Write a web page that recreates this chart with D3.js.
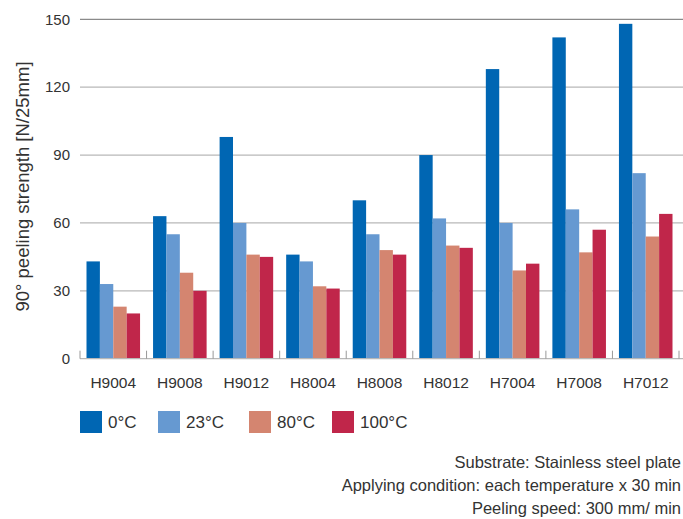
<!DOCTYPE html>
<html><head><meta charset="utf-8">
<script src="https://cdn.jsdelivr.net/npm/d3@7"></script>
<style>body{margin:0;background:#fff}svg{display:block}text{font-family:"Liberation Sans",Arial,sans-serif;fill:#333}</style>
</head><body><svg id="c" width="683" height="519"></svg>
<script>
const categories = ["H9004","H9008","H9012","H8004","H8008","H8012","H7004","H7008","H7012"];
const seriesNames = ["0°C","23°C","80°C","100°C"];
const s0 = [43,63,98,46,70,90,128,142,148];
const s23 = [33,55,60,43,55,62,60,66,82];
const s80 = [23,38,46,32,48,50,39,47,54];
const s100 = [20,30,45,31,46,49,42,57,64];
const yTicks = [0,30,60,90,120,150];
const colors = ["#0066b3","#6699d1","#d48570","#c0264a"];
const notes = ["Substrate: Stainless steel plate","Applying condition: each temperature x 30 min","Peeling speed: 300 mm/ min"];

const series = [s0,s23,s80,s100];
const svg = d3.select("#c");
const L = 80, R = 679, T = 19.3, B = 358.7;
const y = d3.scaleLinear().domain([0,150]).range([B,T]);
const x0 = d3.scaleBand().domain(categories).range([L,R]).paddingInner(0).paddingOuter(0);
const x1 = d3.scaleBand().domain(d3.range(seriesNames.length)).range([6.5, x0.bandwidth()-6.5]);

// gridlines
svg.append("g").selectAll("line").data(yTicks.filter(d=>d>0)).join("line")
  .attr("x1",L).attr("x2",683).attr("y1",d=>y(d)).attr("y2",d=>y(d))
  .attr("stroke",d=>d===150?"#8a8a8a":"#b8b8b8").attr("stroke-width",1.3);

// y tick labels
svg.append("g").selectAll("text").data(yTicks).join("text")
  .attr("x",70).attr("y",d=>y(d)).attr("dy","0.35em").attr("text-anchor","end")
  .style("font-size","15px").text(d=>d);

// bars
const g = svg.append("g").selectAll("g").data(categories).join("g")
  .attr("transform",c=>`translate(${x0(c)},0)`);
g.selectAll("rect").data((c,i)=>series.map((s,k)=>({k,v:s[i]}))).join("rect")
  .attr("x",d=>x1(d.k)).attr("width",x1.bandwidth())
  .attr("y",d=>y(d.v)).attr("height",d=>B-y(d.v)).attr("fill",d=>colors[d.k]);

// baseline and ticks
svg.append("line").attr("x1",L).attr("x2",683).attr("y1",B).attr("y2",B)
  .attr("stroke","#b8b8b8").attr("stroke-width",1.3);
const tickXs = categories.map(c=>x0(c)).concat([R]);
svg.append("g").selectAll("line").data(tickXs).join("line")
  .attr("x1",d=>d).attr("x2",d=>d).attr("y1",B).attr("y2",B-8)
  .attr("stroke","#999").attr("stroke-width",1);

// x labels
svg.append("g").selectAll("text").data(categories).join("text")
  .attr("x",c=>x0(c)+x0.bandwidth()/2).attr("y",383).attr("dy","0.35em")
  .attr("text-anchor","middle").style("font-size","15.5px").text(c=>c);

// y title
svg.append("text").attr("transform","translate(29,186.5) rotate(-90)")
  .attr("text-anchor","middle").style("font-size","18.5px").text("90° peeling strength [N/25mm]");

// legend
const legX = [80,158,249,332];
const lg = svg.append("g").selectAll("g").data(seriesNames).join("g")
  .attr("transform",(d,i)=>`translate(${legX[i]},411)`);
lg.append("rect").attr("width",22).attr("height",22).attr("fill",(d,i)=>colors[i]);
lg.append("text").attr("x",28).attr("y",11).attr("dy","0.35em").style("font-size","17px").text(d=>d);

// notes
svg.append("g").selectAll("text").data(notes).join("text")
  .attr("x",681).attr("y",(d,i)=>462+i*23).attr("dy","0.35em").attr("text-anchor","end")
  .style("font-size","16.5px").text(d=>d);
</script></body></html>
